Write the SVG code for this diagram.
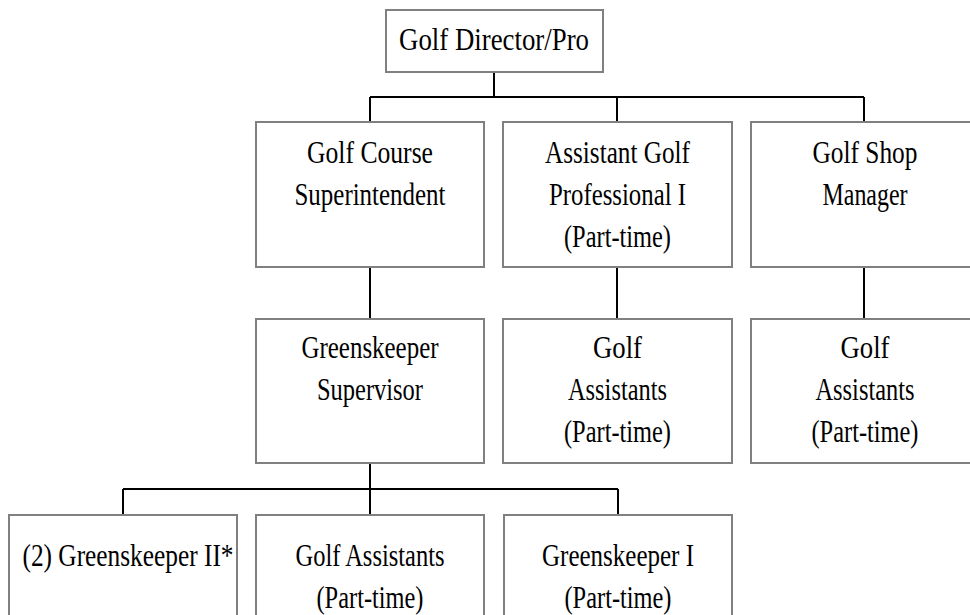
<svg xmlns="http://www.w3.org/2000/svg" width="970" height="615" viewBox="0 0 970 615">
<style>
.box{fill:#fff;stroke:#808080;stroke-width:2}
.lbl{font-family:"Liberation Serif","Times New Roman",serif;font-size:31px;fill:#000;text-anchor:middle}
.con{fill:none;stroke:#000;stroke-width:2}
</style>
<rect width="970" height="615" fill="#fff"/>
<g id="connectors">
<path class="con" d="M494 72V97M370 97H864M370 97V122M617 97V122M864 97V122"/>
<path class="con" d="M370 267V319M617 267V319M864 267V319"/>
<path class="con" d="M370 463V489M123 489H618M123 489V515M370 489V515M618 489V515"/>
</g>
<g id="director">
<rect class="box" x="386" y="10" width="217" height="62"/>
<text class="lbl" x="494" y="50" textLength="190" lengthAdjust="spacingAndGlyphs">Golf Director/Pro</text>
</g>
<g id="superintendent">
<rect class="box" x="256" y="122" width="228" height="145"/>
<text class="lbl" x="370" y="163" textLength="126" lengthAdjust="spacingAndGlyphs">Golf Course</text>
<text class="lbl" x="370" y="205" textLength="151" lengthAdjust="spacingAndGlyphs">Superintendent</text>
</g>
<g id="assistant-pro">
<rect class="box" x="503" y="122" width="229" height="145"/>
<text class="lbl" x="617.5" y="163" textLength="145" lengthAdjust="spacingAndGlyphs">Assistant Golf</text>
<text class="lbl" x="617.5" y="205" textLength="137" lengthAdjust="spacingAndGlyphs">Professional I</text>
<text class="lbl" x="617.5" y="247" textLength="107" lengthAdjust="spacingAndGlyphs">(Part-time)</text>
</g>
<g id="shop-manager">
<rect class="box" x="751" y="122" width="229" height="145"/>
<text class="lbl" x="865" y="163" textLength="105" lengthAdjust="spacingAndGlyphs">Golf Shop</text>
<text class="lbl" x="865" y="205" textLength="85" lengthAdjust="spacingAndGlyphs">Manager</text>
</g>
<g id="greens-supervisor">
<rect class="box" x="256" y="319" width="228" height="144"/>
<text class="lbl" x="370" y="358" textLength="137" lengthAdjust="spacingAndGlyphs">Greenskeeper</text>
<text class="lbl" x="370" y="400" textLength="106" lengthAdjust="spacingAndGlyphs">Supervisor</text>
</g>
<g id="golf-assistants-pro">
<rect class="box" x="503" y="319" width="229" height="144"/>
<text class="lbl" x="617.5" y="358" textLength="49" lengthAdjust="spacingAndGlyphs">Golf</text>
<text class="lbl" x="617.5" y="400" textLength="99" lengthAdjust="spacingAndGlyphs">Assistants</text>
<text class="lbl" x="617.5" y="442" textLength="107" lengthAdjust="spacingAndGlyphs">(Part-time)</text>
</g>
<g id="golf-assistants-shop">
<rect class="box" x="751" y="319" width="229" height="144"/>
<text class="lbl" x="865" y="358" textLength="49" lengthAdjust="spacingAndGlyphs">Golf</text>
<text class="lbl" x="865" y="400" textLength="99" lengthAdjust="spacingAndGlyphs">Assistants</text>
<text class="lbl" x="865" y="442" textLength="107" lengthAdjust="spacingAndGlyphs">(Part-time)</text>
</g>
<g id="greenskeeper-ii">
<rect class="box" x="9" y="515" width="228" height="145"/>
<text class="lbl" x="128" y="566" textLength="211" lengthAdjust="spacingAndGlyphs">(2) Greenskeeper II*</text>
</g>
<g id="golf-assistants-greens">
<rect class="box" x="256" y="515" width="228" height="145"/>
<text class="lbl" x="370" y="566" textLength="149" lengthAdjust="spacingAndGlyphs">Golf Assistants</text>
<text class="lbl" x="370" y="608" textLength="107" lengthAdjust="spacingAndGlyphs">(Part-time)</text>
</g>
<g id="greenskeeper-i">
<rect class="box" x="504" y="515" width="228" height="145"/>
<text class="lbl" x="618" y="566" textLength="152" lengthAdjust="spacingAndGlyphs">Greenskeeper I</text>
<text class="lbl" x="618" y="608" textLength="107" lengthAdjust="spacingAndGlyphs">(Part-time)</text>
</g>
</svg>
